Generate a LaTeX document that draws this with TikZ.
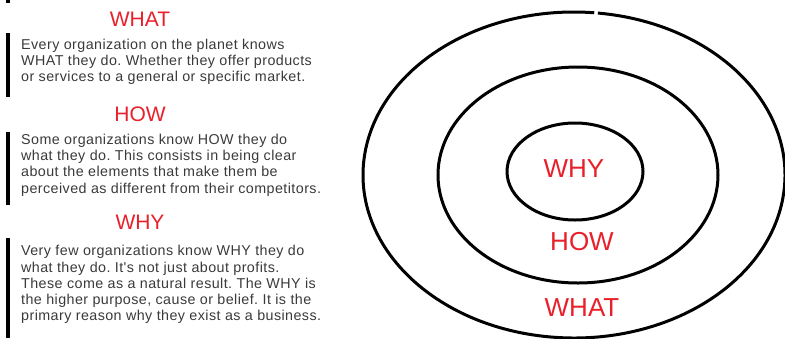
\documentclass[tikz,border=0pt]{standalone}
\usepackage{fontspec}
\setmainfont{Liberation Sans}
\newfontfamily\parafont[LetterSpace=3]{Liberation Sans}
\frenchspacing
\definecolor{hred}{HTML}{E8202A}
\definecolor{body}{HTML}{3A3A3A}
\begin{document}
\begin{tikzpicture}[x=1pt,y=-1pt,
  ring/.style={line width=3pt, black},
  bar/.style={line width=3.8pt, black},
  head/.style={text=hred, font=\fontsize{21}{24}\selectfont, inner sep=0pt},
  lbl/.style={text=hred, font=\fontsize{26}{30}\selectfont, inner sep=0pt},
  para/.style={text=body, font=\parafont\fontsize{14.3}{16.2}\selectfont\frenchspacing, align=left, inner sep=0pt, anchor=base west}]
\useasboundingbox (0,0) rectangle (785,338);
% left bars
\draw[bar] (8.3,0) -- (8.3,2.5);
\draw[bar] (8.3,33) -- (8.3,97);
\draw[bar] (8.3,132) -- (8.3,205);
\draw[bar] (8.3,238) -- (8.3,338);
% headers
\node[head] (h1) at (140,19) {WHAT};
\node[head] (h2) at (140,114) {HOW};
\node[head] (h3) at (140,222) {WHY};
% paragraphs (anchored at the baseline of the last line)
\node[para] (p1) at (21,81.5) {Every organization on the planet knows\\WHAT they do. Whether they offer products\\or services to a general or specific market.};
\node[para] (p2) at (21,193) {Some organizations know HOW they do\\what they do. This consists in being clear\\about the elements that make them be\\perceived as different from their competitors.};
\node[para] (p3) at (21,320.7) {Very few organizations know WHY they do\\what they do. It's not just about profits.\\These come as a natural result. The WHY is\\the higher purpose, cause or belief. It is the\\primary reason why they exist as a business.};
% rings
\draw[ring] (574,175) ++(-83.5:211 and 163) arc[start angle=-83.5, end angle=275.5, x radius=211, y radius=163];
\draw[ring] (578,175) ellipse[x radius=140, y radius=108];
\draw[ring] (575,171.5) ellipse[x radius=68, y radius=48.5];
% labels
\node[lbl] (why) at (574,169) {WHY};
\node[lbl] (how) at (582,242) {HOW};
\node[lbl] (what) at (582,308) {WHAT};
\end{tikzpicture}
\end{document}
